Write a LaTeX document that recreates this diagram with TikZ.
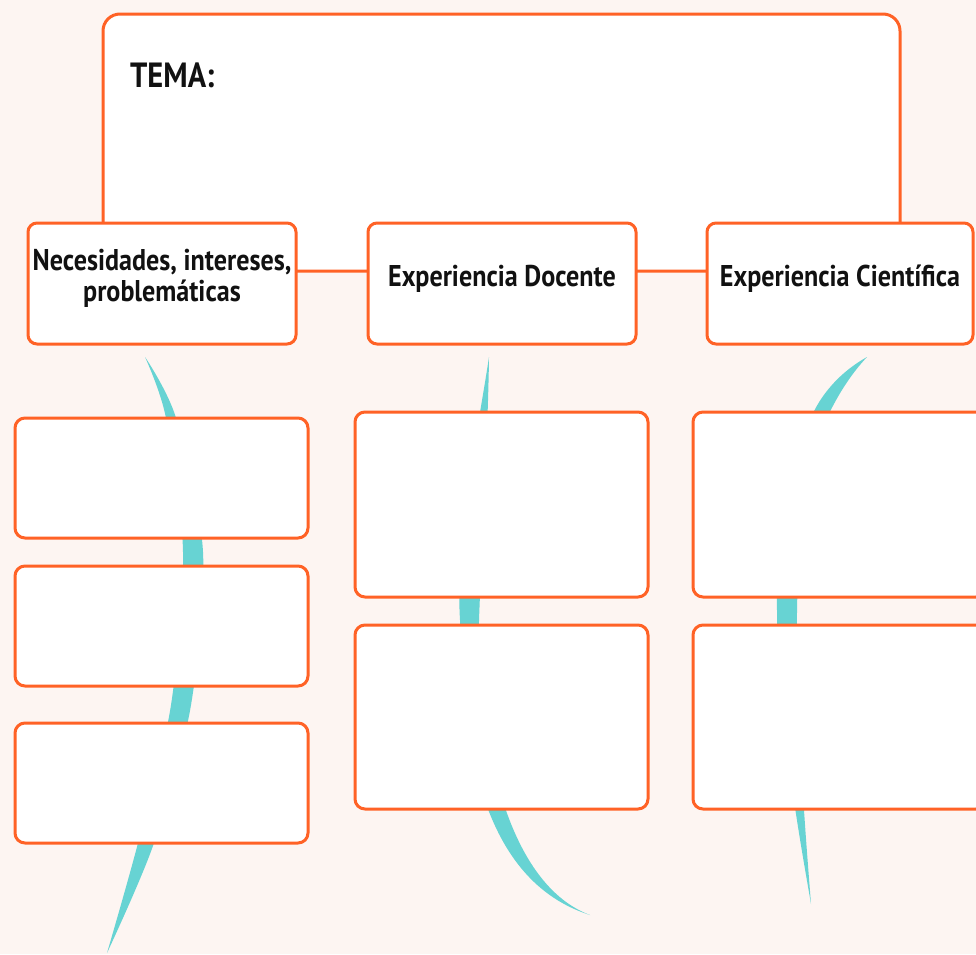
\documentclass[tikz,border=0pt]{standalone}
\usepackage{fontspec}
\setmainfont[FakeStretch=0.87]{PT Sans}
\definecolor{bgpink}{HTML}{FDF5F2}
\definecolor{boxorange}{HTML}{FF6226}
\definecolor{ribbon}{HTML}{67D3D3}
\definecolor{ink}{HTML}{111111}
\tikzset{
  frame/.style={draw=boxorange, line width=3pt, fill=white, rectangle, inner sep=0pt, outer sep=0pt},
  headbox/.style={frame, rounded corners=9pt, minimum width=268pt, minimum height=121pt},
  lowbox/.style={frame, rounded corners=10pt, minimum width=293pt},
  htext/.style={font=\bfseries\fontsize{30}{31}\selectfont, text=ink, align=center, inner sep=0pt},
  ribbonfill/.style={fill=ribbon, draw=none}
}
\begin{document}
\begin{tikzpicture}[x=1pt,y=-1pt]
\useasboundingbox (0,0) rectangle (976,954);
\fill[bgpink] (0,0) rectangle (976,954);

% ribbons (behind the boxes)
\fill[ribbonfill] plot[smooth] coordinates {(145,357) (166,418) (183,552) (171,705) (138,843) (107,953)}
  -- plot[smooth] coordinates {(107,953) (154,843) (191,705) (203,552) (176,418) (145,357)} -- cycle;
\fill[ribbonfill] (489,357) .. controls (478,430) and (455,540) .. (460,620)
  .. controls (462,740) and (480,880) .. (590,915)
  .. controls (510,885) and (478,750) .. (479,620)
  .. controls (482,540) and (488,430) .. (489,357) -- cycle;
\fill[ribbonfill] (867,357) .. controls (840,372) and (820,395) .. (810,420)
  .. controls (790,470) and (776,540) .. (777,611)
  .. controls (778,720) and (800,840) .. (811,904)
  .. controls (806,840) and (796,720) .. (797,611)
  .. controls (798,540) and (808,460) .. (826,420)
  .. controls (836,398) and (850,375) .. (867,357) -- cycle;

% TEMA frame
\node[frame, rounded corners=17pt, minimum width=797pt, minimum height=257pt] (tema) at (501.5,142.5) {};
\node[anchor=base west, font=\bfseries\fontsize{35}{40}\selectfont, text=ink, inner sep=0pt] (tematext) at (130,87) {TEMA:};

% header boxes
\node[headbox] (h1) at (162,283.5) {};
\node[headbox] (h2) at (502,283.5) {};
\node[headbox, minimum width=266pt] (h3) at (840,283.5) {};
\node[htext] (h1t) at ([yshift=5pt]h1.center) {Necesidades, intereses,\\problemáticas};
\node[htext] (h2t) at ([yshift=5pt]h2.center) {Experiencia Docente};
\node[htext] (h3t) at ([yshift=5pt]h3.center) {Experiencia Científica};

% lower boxes
\node[lowbox, minimum height=120pt] (a1) at (161.5,478) {};
\node[lowbox, minimum height=120pt] (a2) at (161.5,626) {};
\node[lowbox, minimum height=120pt] (a3) at (161.5,783) {};
\node[lowbox, minimum height=185pt] (b1) at (501.5,504.5) {};
\node[lowbox, minimum height=184pt] (b2) at (501.5,717) {};
\node[lowbox, minimum height=185pt] (c1) at (839.5,504.5) {};
\node[lowbox, minimum height=184pt] (c2) at (839.5,717) {};
\end{tikzpicture}
\end{document}
